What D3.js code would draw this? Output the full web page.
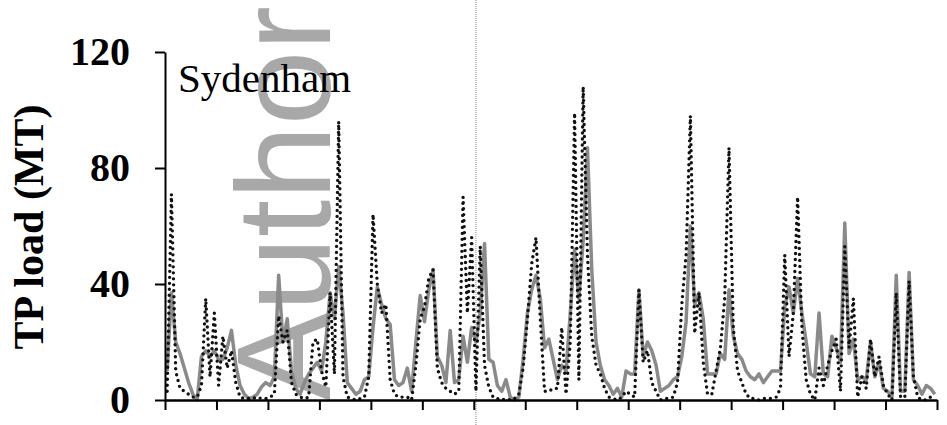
<!DOCTYPE html>
<html>
<head>
<meta charset="utf-8">
<script src="https://cdn.jsdelivr.net/npm/d3@7"></script>
<style>
  html, body { margin: 0; padding: 0; background: #fff; }
  svg { display: block; }
</style>
</head>
<body>
<svg id="chart" width="947" height="425"></svg>
<script>
// Monthly TP load (metric tonnes), 15 years of months
const observed = [
  3, 71, 10, 4, 3, 2, 1, 1, 5, 35, 8, 30, 5, 22, 11, 17, 6, 1, 0.5, 0.5,
  0.5, 1, 0.5, 0.5, 1, 2, 29, 20, 24, 6, 2, 1, 0.5, 1, 20, 21, 10, 4.5, 37, 9,
  96, 8, 1, 0.5, 0, 0.5, 1, 8, 64, 40, 30, 33, 7, 2, 1, 1, 1, 0, 12, 28,
  32, 42, 45, 11, 6, 4, 3, 2, 3, 70, 30, 56, 3, 53, 12, 4.5, 1, 0.5, 0, 0.5,
  0, 0.5, 2, 11, 28, 47, 56, 28, 3, 3, 4, 4, 25, 2, 20, 99, 7, 108, 50, 22,
  12, 9, 4, 1, 0.5, 0, 1, 3, 2, 1, 38, 13, 17, 6, 3, 0, 0.5, 0.5, 1, 6,
  33, 50, 98, 23, 37, 13, 2, 2, 10, 18, 35, 87, 25, 10, 6, 2, 0.5, 0.5, 0, 0.5,
  0.5, 0.5, 1, 4, 50, 15, 30, 70, 25, 7, 2, 0, 11, 5, 12, 17, 21, 3, 53, 18,
  35, 1, 8, 4, 21, 8, 15, 5, 2, 0, 37, 1, 1, 41, 8, 1, 0, 0, 1, 1
];
const simulated = [
  10, 37, 20, 16, 11, 6, 2, 0, 15, 17, 15, 17, 14, 14, 18, 24, 12, 5, 2, 0.5,
  1, 2, 4.5, 6, 5, 8, 43, 20, 28, 10, 4, 2, 6, 9, 11, 13, 10, 20, 37, 28,
  46, 30, 6, 4, 2, 3, 7, 8, 25, 39, 33, 28, 26, 7, 5, 6, 11, 3, 20, 36,
  27, 38, 45, 15, 12, 6, 24, 6, 7, 22, 13, 25, 20, 30, 54, 14, 13, 5, 3, 7,
  1, 0, 1, 14, 30, 38, 43, 35, 18, 21, 14, 7, 12, 10, 30, 52, 35, 55, 87, 45,
  20, 12, 7, 5, 2, 4, 1, 10, 9, 9, 38, 15, 20, 17, 12, 3, 4, 5, 7, 8,
  15, 27, 60, 33, 37, 28, 9, 9, 9, 16, 14, 38, 22, 16, 14, 10, 8, 7, 9, 6,
  8, 10, 10, 10, 32, 39, 30, 42, 30, 20, 9, 8, 30, 9, 8, 22, 18, 13, 61, 16,
  21, 7, 8, 7, 20, 8, 13, 4, 3, 1, 43, 3, 3, 44, 7, 5, 2, 5, 4, 2
];
const yTickValues = [0, 40, 80, 120];
const monthsPerYear = 12;
const splitMonth = 72;          // calibration / validation split
const siteName = "Sydenham";
const yTitle = "TP load (MT)";
const stampText = "Author";

const svg = d3.select("#chart");
const margin = { left: 165, right: 10, top: 52, bottom: 25 };
const W = 947, H = 425;

const x = d3.scaleLinear()
  .domain([0, observed.length])
  .range([margin.left, W - margin.right]);
const y = d3.scaleLinear()
  .domain([0, 120])
  .range([H - margin.bottom, margin.top]);

// watermark stamp, rotated to read upwards
svg.append("text")
  .attr("transform", `translate(330,401) rotate(-90)`)
  .attr("font-family", "'Liberation Sans', Arial, sans-serif")
  .attr("font-size", 134)
  .attr("fill", "#a8a8a8")
  .text(stampText);

// split marker
svg.append("line")
  .attr("x1", x(splitMonth + 0.5)).attr("x2", x(splitMonth + 0.5))
  .attr("y1", 0).attr("y2", H)
  .attr("stroke", "#8a8a8a")
  .attr("stroke-width", 1)
  .attr("stroke-dasharray", "1,1");

const line = d3.line()
  .x((d, i) => x(i + 0.5))
  .y(d => y(d));

svg.append("path")
  .datum(simulated)
  .attr("d", line)
  .attr("fill", "none")
  .attr("stroke", "#8a8a8a")
  .attr("stroke-width", 3.5)
  .attr("stroke-linejoin", "round");

svg.append("path")
  .datum(observed)
  .attr("d", line)
  .attr("fill", "none")
  .attr("stroke", "#111")
  .attr("stroke-width", 3.4)
  .attr("stroke-linecap", "round")
  .attr("stroke-dasharray", "0,6");

// axes
const yAxis = d3.axisLeft(y)
  .tickValues(yTickValues)
  .tickSize(10)
  .tickSizeOuter(0)
  .tickPadding(25)
  .tickFormat(d3.format("d"));
const gy = svg.append("g")
  .attr("transform", `translate(${margin.left},0)`)
  .call(yAxis);
gy.select(".domain").attr("stroke", "#000").attr("stroke-width", 2);
gy.selectAll(".tick line").attr("stroke", "#000").attr("stroke-width", 2);
gy.selectAll(".tick text")
  .attr("font-family", "'Liberation Serif', 'Times New Roman', serif")
  .attr("font-weight", "bold")
  .attr("font-size", 40)
  .attr("fill", "#000");

const xTicks = d3.range(0, observed.length + 1, monthsPerYear);
const xAxis = d3.axisBottom(x)
  .tickValues(xTicks)
  .tickSize(10)
  .tickSizeOuter(0)
  .tickFormat("");
const gx = svg.append("g")
  .attr("transform", `translate(0,${y(0)})`)
  .call(xAxis);
gx.select(".domain").attr("stroke", "#000").attr("stroke-width", 2.5);
gx.selectAll(".tick line").attr("stroke", "#000").attr("stroke-width", 2);

// axis title
svg.append("text")
  .attr("transform", `translate(43,${(y(0) + y(120)) / 2 + 1}) rotate(-90)`)
  .attr("text-anchor", "middle")
  .attr("font-family", "'Liberation Serif', 'Times New Roman', serif")
  .attr("font-weight", "bold")
  .attr("font-size", 42)
  .attr("fill", "#000")
  .text(yTitle);

// site label
svg.append("text")
  .attr("x", 178)
  .attr("y", 92)
  .attr("font-family", "'Liberation Serif', 'Times New Roman', serif")
  .attr("font-size", 41)
  .attr("fill", "#000")
  .text(siteName);
</script>
</body>
</html>
